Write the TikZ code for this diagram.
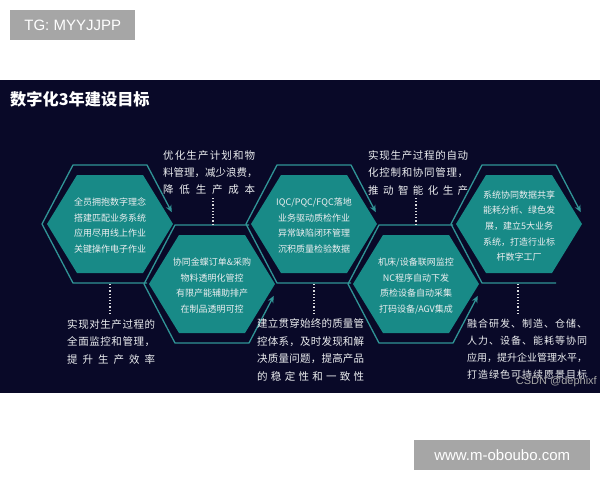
\documentclass[tikz,border=0pt]{standalone}
\usepackage{fontspec}
\setmainfont{Noto Sans CJK SC}
\newfontfamily\arialf{Liberation Sans}
\usetikzlibrary{arrows.meta}
\definecolor{bgnavy}{RGB}{9,9,40}
\definecolor{tealfill}{RGB}{24,138,135}
\definecolor{tealline}{RGB}{48,148,150}
\definecolor{wmgray}{RGB}{166,166,166}
\definecolor{txtwhite}{RGB}{236,238,240}

\def\sprdfirst#1{#1\sprdrest}
\def\sprdrest#1{\ifx#1\relax\else\hfill#1\expandafter\sprdrest\fi}
\newcommand\sprd[2]{\makebox[#1][l]{\sprdfirst#2\relax}}

\newcommand\hexin[2]{\fill[tealfill] (#1-63,#2) -- (#1-33,#2-49) -- (#1+33,#2-49) -- (#1+63,#2) -- (#1+33,#2+49) -- (#1-33,#2+49) -- cycle;}
\newcommand\outtop[2]{\draw[outl] (#1+37,#2+59) -- (#1-37,#2+59) -- (#1-68,#2) -- (#1-37,#2-59) -- (#1+37,#2-59) -- (#1+61.8,#2-11.8);}
\newcommand\outbot[2]{\draw[outl] (#1+37,#2-59) -- (#1-37,#2-59) -- (#1-68,#2) -- (#1-37,#2+59) -- (#1+37,#2+59) -- (#1+61.8,#2+11.8);}

\begin{document}
\begin{tikzpicture}[x=1pt,y=-1pt,
  outl/.style={draw=tealline,line width=1.3pt,line join=miter,-{Stealth[length=7pt,width=6pt]}},
  hextext/.style={text=txtwhite,align=center,inner sep=0pt,font=\fontsize{9}{15.6}\selectfont},
  sidetext/.style={text=txtwhite,align=left,inner sep=0pt,anchor=north west},
  dotln/.style={draw=txtwhite!85!gray,line width=1.2pt,dash pattern=on 1.2pt off 2pt},
  wmbox/.style={fill=wmgray,text=white,inner sep=0pt,font=\arialf\fontsize{15}{18}\selectfont}]
\useasboundingbox (0,0) rectangle (600,480);
\fill[white] (0,0) rectangle (600,480);
\fill[bgnavy] (0,80) rectangle (600,393);

% title
\node[anchor=west,text=white,inner sep=0pt,font=\bfseries\fontsize{16.2}{19}\selectfont] (title) at (10,99) {数字化3年建设目标};

% hexagons
\hexin{110}{224}
\hexin{212}{284}
\hexin{314}{224}
\hexin{416}{284}
\hexin{519}{224}
\outtop{110}{224}
\outbot{212}{284}
\outtop{314}{224}
\outbot{416}{284}
\outtop{519}{224}

% hexagon texts
\node[hextext] (h1) at (110,225.5) {全员拥抱数字理念\\搭建匹配业务系统\\应用尽用线上作业\\关键操作电子作业};
\node[hextext] (h2) at (212,285.5) {协同金蝶订单\&采购\\物料透明化管控\\有限产能辅助排产\\在制品透明可控};
\node[hextext] (h3) at (314,225.5) {IQC/PQC/FQC落地\\业务驱动质检作业\\异常缺陷闭环管理\\沉积质量检验数据};
\node[hextext] (h4) at (416,286) {机床/设备联网监控\\NC程序自动下发\\质检设备自动采集\\打码设备/AGV集成};
\node[hextext] (h5) at (519,226) {系统协同数据共享\\能耗分析、绿色发\\展，建立5大业务\\系统，打造行业标\\杆数字工厂};

% side texts
\node[sidetext,font=\fontsize{10.5}{17}\selectfont] (t1) at (163,150.5)
  {\sprd{92pt}{优化生产计划和物}\\\sprd{92pt}{料管理，减少浪费，}\\\sprd{92pt}{降低生产成本}};
\node[sidetext,font=\fontsize{10.5}{17.3}\selectfont] (t2) at (368,150.5)
  {\sprd{100pt}{实现生产过程的自动}\\\sprd{100pt}{化控制和协同管理，}\\\sprd{100pt}{推动智能化生产}};
\node[sidetext,font=\fontsize{10.5}{17.3}\selectfont] (b1) at (67,319.5)
  {\sprd{88pt}{实现对生产过程的}\\\sprd{88pt}{全面监控和管理，}\\\sprd{88pt}{提升生产效率}};
\node[sidetext,font=\fontsize{10.5}{17.6}\selectfont] (b2) at (257,318.5)
  {\sprd{107pt}{建立贯穿始终的质量管}\\\sprd{107pt}{控体系，及时发现和解}\\\sprd{107pt}{决质量问题，提高产品}\\\sprd{107pt}{的稳定性和一致性}};
\node[sidetext,font=\fontsize{10}{17}\selectfont] (b3) at (467,318.5)
  {\sprd{120pt}{融合研发、制造、仓储、}\\\sprd{120pt}{人力、设备、能耗等协同}\\\sprd{120pt}{应用，提升企业管理水平，}\\\sprd{120pt}{打造绿色可持续愿景目标}};

% dotted connectors
\coordinate (d1a) at (213,198); \coordinate (d1b) at (213,224);
\coordinate (d2a) at (416,198); \coordinate (d2b) at (416,224);
\coordinate (d3a) at (110,284); \coordinate (d3b) at (110,315);
\coordinate (d4a) at (314,284); \coordinate (d4b) at (314,314);
\coordinate (d5a) at (518,284); \coordinate (d5b) at (518,314);
\draw[dotln] (d1a) -- (d1b);
\draw[dotln] (d2a) -- (d2b);
\draw[dotln] (d3a) -- (d3b);
\draw[dotln] (d4a) -- (d4b);
\draw[dotln] (d5a) -- (d5b);

% watermarks
\node[anchor=east,text=gray!70!white,inner sep=0pt,font=\arialf\fontsize{11}{13}\selectfont] (csdn) at (597,382) {CSDN @dephixf};
\node[wmbox,minimum width=125pt,minimum height=30pt,anchor=north west] (wm1) at (10,10) {TG: MYYJJPP};
\node[wmbox,minimum width=176pt,minimum height=30pt,anchor=north west] (wm2) at (414,440) {www.m-oboubo.com};
\end{tikzpicture}
\end{document}
